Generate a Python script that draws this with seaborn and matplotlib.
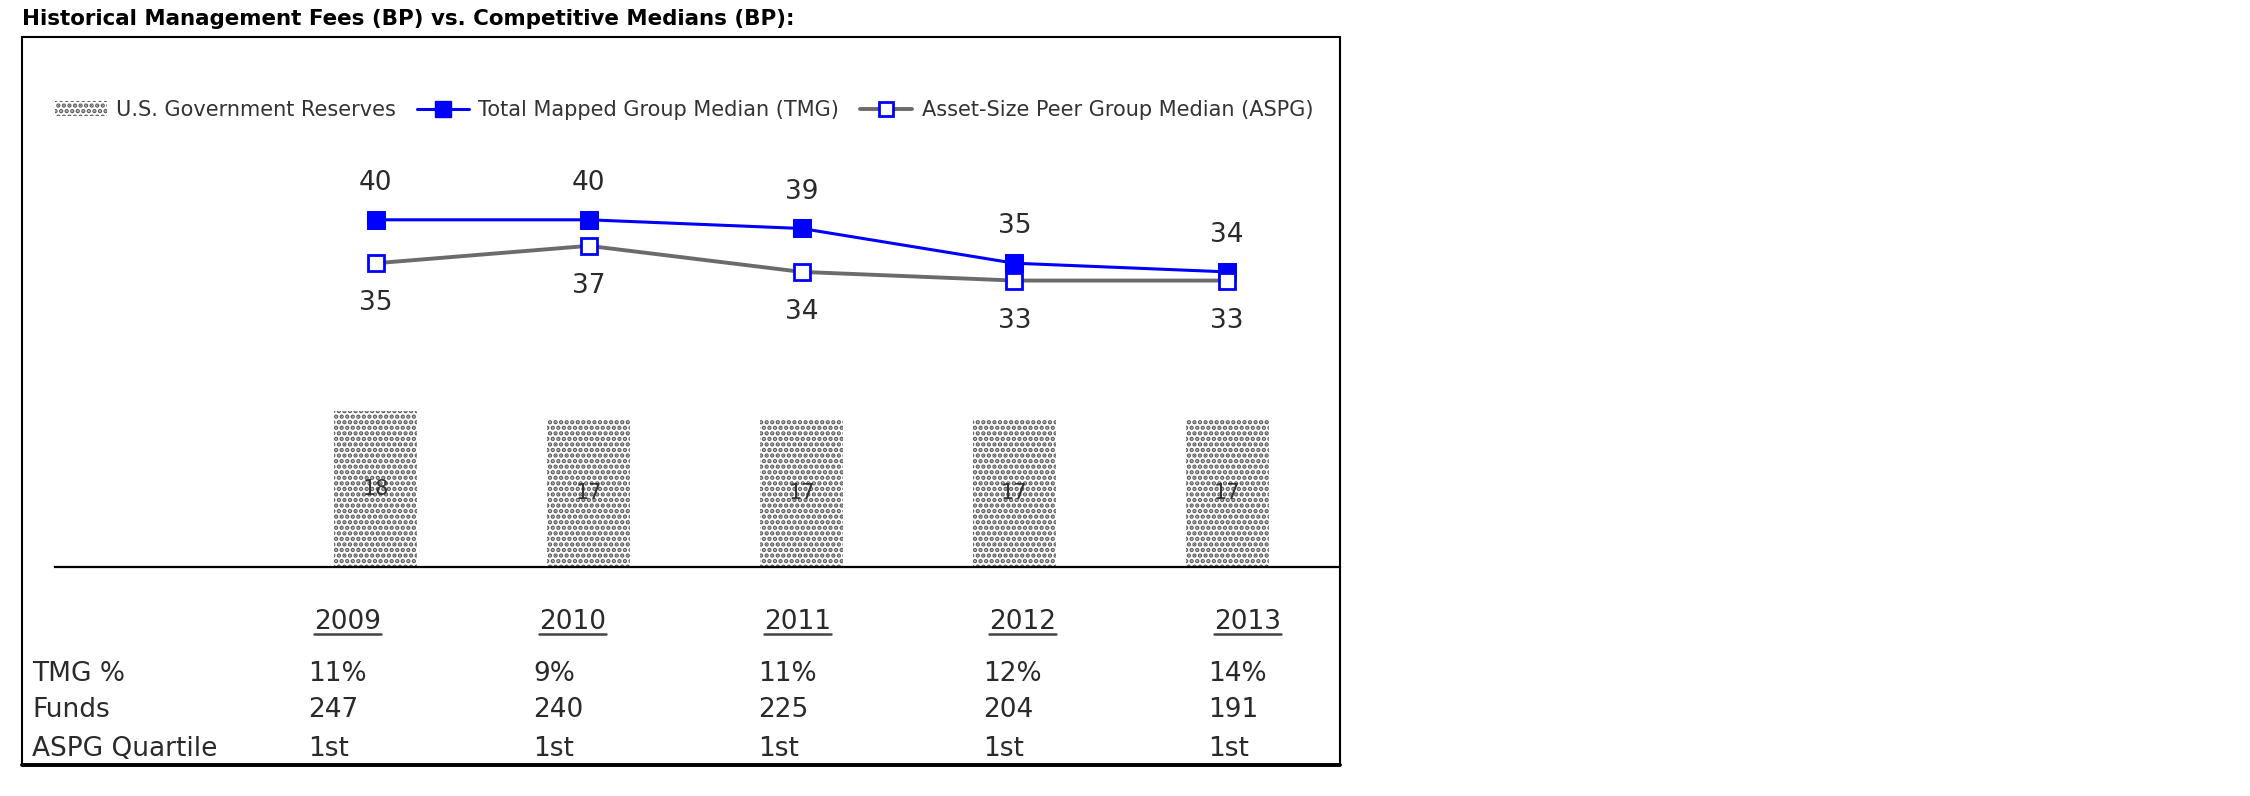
import numpy as np
import pandas as pd
import seaborn as sns
import matplotlib.pyplot as plt
from matplotlib.patches import Patch, Rectangle
from matplotlib.lines import Line2D

# data
years = ["2009", "2010", "2011", "2012", "2013"]
reserves = [18, 17, 17, 17, 17]
tmg_median = [40, 40, 39, 35, 34]
aspg_median = [35, 37, 34, 33, 33]
tmg_pct = ["11%", "9%", "11%", "12%", "14%"]
funds = ["247", "240", "225", "204", "191"]
aspg_quartile = ["1st", "1st", "1st", "1st", "1st"]
row_labels = ["TMG %", "Funds", "ASPG Quartile"]

W, H = 2250, 796
BLUE = "#0000ff"
GREY = "#6b6b6b"
TXT = "#2a2a2a"

sns.set_style("white")
plt.rcParams["font.family"] = ["DejaVu Sans"]
plt.rcParams["hatch.linewidth"] = 2.2

fig = plt.figure(figsize=(W / 100, H / 100), dpi=100)

# main chart area: value 0 sits on the black baseline
ax = fig.add_axes([55 / W, 1 - 567 / H, (1340 - 55) / W, (567 - 37) / H])
ax.set_facecolor("none")
df = pd.DataFrame({"year": years, "reserves": reserves})
sns.barplot(data=df, x="year", y="reserves", ax=ax, width=0.39,
            color="white", edgecolor="#5a5a5a", linewidth=0, saturation=1)
for p in ax.patches:
    p.set_hatch("...")
ax.bar_label(ax.containers[0], label_type="center", fontsize=15, color="#333333")

xs = np.arange(len(years))
sns.lineplot(x=xs, y=tmg_median, ax=ax, color=BLUE, lw=2.2, marker="s",
             markersize=13, markerfacecolor=BLUE, markeredgecolor=BLUE)
sns.lineplot(x=xs, y=aspg_median, ax=ax, color=GREY, lw=2.8, marker="s",
             markersize=12, markerfacecolor="white", markeredgecolor=BLUE,
             markeredgewidth=2)

for x, v in zip(xs, tmg_median):
    ax.annotate(str(v), (x, v), xytext=(0, 26.5), textcoords="offset points",
                ha="center", va="center", fontsize=19, color=TXT)
for x, v in zip(xs, aspg_median):
    ax.annotate(str(v), (x, v), xytext=(0, -29), textcoords="offset points",
                ha="center", va="center", fontsize=19, color=TXT)

ax.set_xlim(-1.508, 4.53)
ax.set_ylim(0, (567 - 37) / 8.68)
ax.set_xticks([])
ax.set_yticks([])
ax.set_xlabel("")
ax.set_ylabel("")
for s in ["top", "left", "right"]:
    ax.spines[s].set_visible(False)
ax.spines["bottom"].set_color("black")
ax.spines["bottom"].set_linewidth(1.6)

handles = [
    Patch(facecolor="white", edgecolor="#5a5a5a", hatch="...", linewidth=0),
    Line2D([], [], color=BLUE, lw=2.2, marker="s", markersize=11,
           markerfacecolor=BLUE, markeredgecolor=BLUE),
    Line2D([], [], color=GREY, lw=2.8, marker="s", markersize=10,
           markerfacecolor="white", markeredgecolor=BLUE, markeredgewidth=2),
]
labels = ["U.S. Government Reserves", "Total Mapped Group Median (TMG)",
          "Asset-Size Peer Group Median (ASPG)"]
fig.legend(handles, labels, loc="center", bbox_to_anchor=(684 / W, 1 - 110 / H),
           ncol=3, frameon=False, fontsize=15, handlelength=2.5,
           handletextpad=0.45, columnspacing=1.0, labelcolor="#333333")

# page overlay in pixel coordinates for title, frame and table below the chart
pax = fig.add_axes([0, 0, 1, 1], zorder=-1)
pax.set_xlim(0, W)
pax.set_ylim(H, 0)
pax.axis("off")

fig.text(22 / W, 1 - 19 / H,
         "Historical Management Fees (BP) vs. Competitive Medians (BP):",
         fontsize=15.4, fontweight="bold", ha="left", va="center", color="black")

pax.add_patch(Rectangle((22, 37), 1318, 728, fill=False, ec="black", lw=1.5))
pax.plot([22, 1340], [765, 765], color="black", lw=2.8)

col_x0, col_dx = 308, 225
year_texts = []
for i, y in enumerate(years):
    t = pax.text(col_x0 + 6 + i * col_dx, 622, y, fontsize=19, ha="left",
                 va="center", color=TXT)
    year_texts.append(t)

rows = [tmg_pct, funds, aspg_quartile]
row_y = [674, 710, 749]
for lab, vals, ry in zip(row_labels, rows, row_y):
    pax.text(32, ry, lab, fontsize=19, ha="left", va="center", color=TXT)
    for i, v in enumerate(vals):
        pax.text(col_x0 + i * col_dx, ry, v, fontsize=19, ha="left",
                 va="center", color=TXT)

# underline the year headers
fig.canvas.draw()
inv = pax.transData.inverted()
for t in year_texts:
    bb = t.get_window_extent()
    (x0, _), (x1, _) = inv.transform([[bb.x0, bb.y0], [bb.x1, bb.y0]])
    pax.plot([x0, x1], [634, 634], color="#444444", lw=1.8)

fig.savefig("out.png", dpi=100)
